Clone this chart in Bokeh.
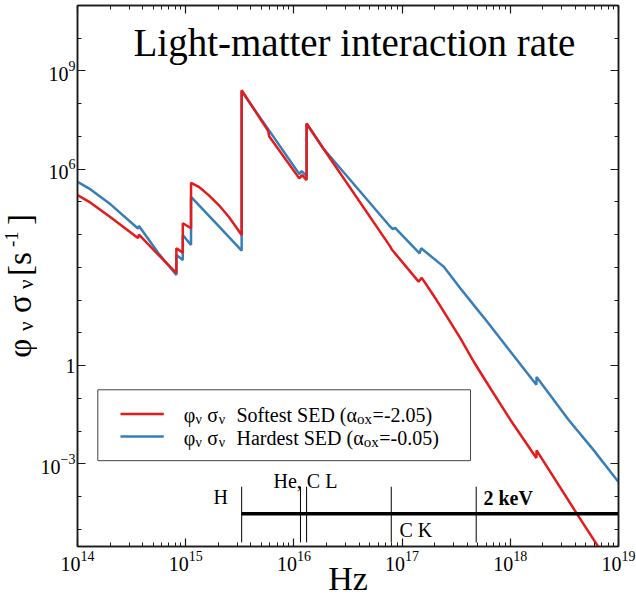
import math

from bokeh.core.properties import value
from bokeh.embed import file_html
from bokeh.layouts import row
from bokeh.models import FixedTicker, Label, LogAxis, Range1d
from bokeh.plotting import figure
from bokeh.resources import INLINE

# Photo-interaction rate phi_nu * sigma_nu [s^-1] against frequency [Hz]
soft_freq = [1.00e14, 1.32e14, 2.02e14, 3.62e14, 3.70e14, 5.60e14, 8.2e14, 8.2e14,
             9.4e14, 9.4e14, 1.12e15, 1.12e15, 1.32e15, 1.63e15, 2.02e15, 2.50e15,
             3.29e15, 3.29e15, 5.80e15, 5.90e15, 1.12e16, 1.19e16, 1.31e16, 1.31e16,
             1.87e16, 7.78e16, 8.00e16, 1.42e17, 1.52e17, 2.03e17, 3.45e17, 4.58e17,
             6.09e17, 1.00e18, 1.74e18, 1.75e18, 4.13e18, 6.45e18, 7.22e18]
soft_rate = [1.62e5, 9.5e4, 3.39e4, 7.9e3, 1.01e4, 2.40e3, 6.7e2, 3.85e3,
             2.83e3, 2.23e4, 1.57e4, 3.85e5, 2.90e5, 1.62e5, 8.04e4, 3.54e4,
             9.8e3, 2.58e8, 1.45e7, 1.02e7, 5.25e5, 6.6e5, 4.65e5, 2.49e7,
             4.31e6, 4.31e3, 3.6e3, 3.69e2, 4.79e2, 1.15e2, 6.94, 1.34,
             2.95e-1, 2.24e-2, 1.52e-3, 2.60e-3, 2.99e-5, 3.08e-6, 1.72e-6]

hard_freq = [1.00e14, 1.32e14, 2.02e14, 3.62e14, 3.70e14, 5.60e14, 8.2e14, 8.2e14,
             9.4e14, 9.4e14, 1.12e15, 1.12e15, 1.92e15, 3.29e15, 3.29e15, 5.87e15,
             1.12e16, 1.18e16, 1.31e16, 1.31e16, 1.87e16, 7.78e16, 8.21e16, 8.66e16,
             1.45e17, 1.50e17, 2.42e17, 3.45e17, 4.58e17, 6.09e17, 1.74e18, 1.75e18,
             3.45e18, 5.84e18, 1.00e19]
hard_rate = [4.13e5, 2.42e5, 8.45e4, 1.55e4, 1.84e4, 2.71e3, 5.9e2, 2.40e3,
             1.69e3, 9.8e3, 4.85e3, 1.44e5, 2.19e4, 3.25e3, 2.41e8, 1.56e7,
             7.1e5, 8.75e5, 6.17e5, 2.49e7, 4.31e6, 1.75e4, 1.49e4, 1.60e4,
             2.71e3, 3.85e3, 1.06e3, 2.32e2, 7.19e1, 2.23e1, 2.62e-1, 4.49e-1,
             2.24e-2, 2.73e-3, 2.79e-4]

# ionisation edges marked on the bar near the bottom
edge_freqs = [3.29e15, 1.15e16, 1.31e16, 7.94e16, 4.84e17]
bar_level = 3.0e-5
edge_tick_lo, edge_tick_hi = 4.0e-6, 2.0e-4

x_major = [1e14, 1e15, 1e16, 1e17, 1e18, 1e19]
y_major = [1e-3, 1.0, 1e6, 1e9]

X0, X1 = 1e14, 1e19
Y0, Y1 = 3e-6, 1e11

W, H = 636, 599
STRIP = 37                            # width of the strip holding the y title
FL, FR, FT, FB = 77, 618, 5, 547      # frame edges in page pixels
SERIF = "Liberation Serif"
INK = "#1a1a1a"
RED = "#e41a1c"
BLUE = "#377eb8"
RISE = 0.33                           # baseline correction, fraction of font size

LX0, LX1 = math.log10(X0), math.log10(X1)
LY0, LY1 = math.log10(Y0), math.log10(Y1)


def at_x(px):
    return 10 ** (LX0 + (px - FL) / (FR - FL) * (LX1 - LX0))


def at_y(py):
    return 10 ** (LY1 - (py - FT) / (FB - FT) * (LY1 - LY0))


def px_size(size):
    return float(size.replace("px", ""))


p = figure(width=W - STRIP, height=H, x_axis_type="log", y_axis_type="log",
           x_range=Range1d(X0, X1), y_range=Range1d(Y0, Y1),
           output_backend="svg", toolbar_location=None,
           min_border_left=FL - STRIP, min_border_right=W - FR,
           min_border_top=FT, min_border_bottom=H - FB)
p.grid.visible = False
p.outline_line_color = INK
p.outline_line_width = 1.5
p.background_fill_color = "white"
p.border_fill_color = "white"

x_minor = [float(m) * 10.0 ** e for e in range(14, 19) for m in range(2, 10)]
y_minor = [10.0 ** e for e in range(-5, 11)]
x_ticker = FixedTicker(ticks=x_major, minor_ticks=x_minor)
y_ticker = FixedTicker(ticks=y_major, minor_ticks=y_minor)


def style_axis(ax, ticker, labels, standoff=4):
    ax.ticker = ticker
    ax.axis_line_color = INK
    ax.axis_line_width = 1.5
    ax.major_tick_in = 8
    ax.major_tick_out = 0
    ax.minor_tick_in = 4
    ax.minor_tick_out = 0
    ax.major_tick_line_color = INK
    ax.minor_tick_line_color = INK
    ax.major_tick_line_width = 1.2
    ax.minor_tick_line_width = 1.0
    if labels:
        ax.major_label_text_font = SERIF
        ax.major_label_text_font_size = "20px"
        ax.major_label_text_color = "black"
        ax.major_label_standoff = standoff
    else:
        ax.major_label_text_font_size = "1px"
        ax.major_label_text_alpha = 0
        ax.major_label_standoff = 0


style_axis(p.xaxis[0], x_ticker, True, standoff=4)
style_axis(p.yaxis[0], y_ticker, True, standoff=2)
p.yaxis[0].major_label_overrides = {1.0: "1"}

xa = p.xaxis[0]
xa.axis_label = "Hz"
xa.axis_label_text_font = SERIF
xa.axis_label_text_font_size = "34px"
xa.axis_label_text_font_style = "normal"
xa.axis_label_text_color = "black"
xa.axis_label_standoff = -14

top_axis = LogAxis()
right_axis = LogAxis()
style_axis(top_axis, x_ticker, False)
style_axis(right_axis, y_ticker, False)
p.add_layout(top_axis, "above")
p.add_layout(right_axis, "right")

# the two rate curves
p.line(hard_freq, hard_rate, line_color=BLUE, line_width=2.5)
p.line(soft_freq, soft_rate, line_color=RED, line_width=2.5)

# edge bar
p.segment(x0=[edge_freqs[0]], x1=[X1], y0=[bar_level], y1=[bar_level],
          line_color="black", line_width=3.5)
p.segment(x0=edge_freqs, x1=edge_freqs,
          y0=[edge_tick_lo] * len(edge_freqs), y1=[edge_tick_hi] * len(edge_freqs),
          line_color="black", line_width=1)


def put_text(px, py, text, size, bold=False):
    py = py - RISE * px_size(size)
    p.text(x=[at_x(px)], y=[at_y(py)], text=[text],
           text_font=value(SERIF), text_font_size=value(size),
           text_font_style="bold" if bold else "normal",
           text_color="black", text_align="left", text_baseline="alphabetic")


put_text(213, 504, "H", "20px")
put_text(273, 488, "He, C L", "20px")
put_text(399, 537, "C K", "20px")
put_text(483, 505, "2 keV", "20px", bold=True)

# legend
p.quad(left=[at_x(97.3)], right=[at_x(470)], top=[at_y(390)], bottom=[at_y(461)],
       fill_color="white", line_color="#444444", line_width=1)
ROWS = [(414.3, 422.3, RED, "Softest", "-2.05"),
        (436.7, 445.0, BLUE, "Hardest", "-0.05")]
WID = {" ": .25, "S": .556, "o": .5, "f": .333, "t": .278, "e": .444, "s": .389,
       "E": .611, "D": .722, "(": .333, ")": .333, "H": .722, "a": .444, "r": .333,
       "d": .5, "α": .53, "x": .5}
for ly, base, color, name, aox in ROWS:
    p.segment(x0=[at_x(120)], x1=[at_x(163.3)], y0=[at_y(ly)], y1=[at_y(ly)],
              line_color=color, line_width=2.5)
    put_text(183.3, base, "φ", "20px")
    put_text(195.0, base + 2.2, "ν", "14px")
    put_text(206.7, base, "σ", "20px")
    put_text(218.3, base + 2.2, "ν", "14px")
    word = name + " SED (α"
    put_text(236.0, base, word, "20px")
    xo = 236.0 + 20 * sum(WID.get(c, .5) for c in word)
    put_text(xo, base + 2.2, "ox", "15px")
    put_text(xo + 15.5, base, "=" + aox + ")", "20px")

# title inside the frame
p.add_layout(Label(x=at_x(353.9), y=at_y(55 - RISE * 39), text="Light-matter interaction rate",
                   text_font=SERIF, text_font_size="39px", text_color="black",
                   text_align="center", text_baseline="alphabetic"))

# strip on the left carrying the rotated y title; its frame lines up with the
# main frame, so its y range is expressed in page pixels between FT and FB
ys = figure(width=STRIP, height=H, x_range=Range1d(0, STRIP), y_range=Range1d(FB, FT),
            x_axis_location=None, y_axis_location=None, min_border=0,
            output_backend="svg", toolbar_location=None)
ys.outline_line_color = None
ys.grid.visible = False
ys.background_fill_color = "white"
ys.border_fill_color = "white"

Y_PIECES = [(30, 358, "φ", "33px"), (32, 331, "ν", "21px"), (30, 313, "σ", "33px"),
            (32, 289, "ν", "21px"), (30, 276, "[s", "33px"), (17.5, 247, "-1", "19px"),
            (30, 225, "]", "33px")]
for bx, sy, txt, size in Y_PIECES:
    ys.add_layout(Label(x=bx - RISE * px_size(size), y=sy, text=txt, angle=math.pi / 2,
                        text_font=SERIF, text_font_size=size, text_color="black",
                        text_align="left", text_baseline="alphabetic"))

layout = row(ys, p)
open("out.html", "w").write(file_html(layout, INLINE))
